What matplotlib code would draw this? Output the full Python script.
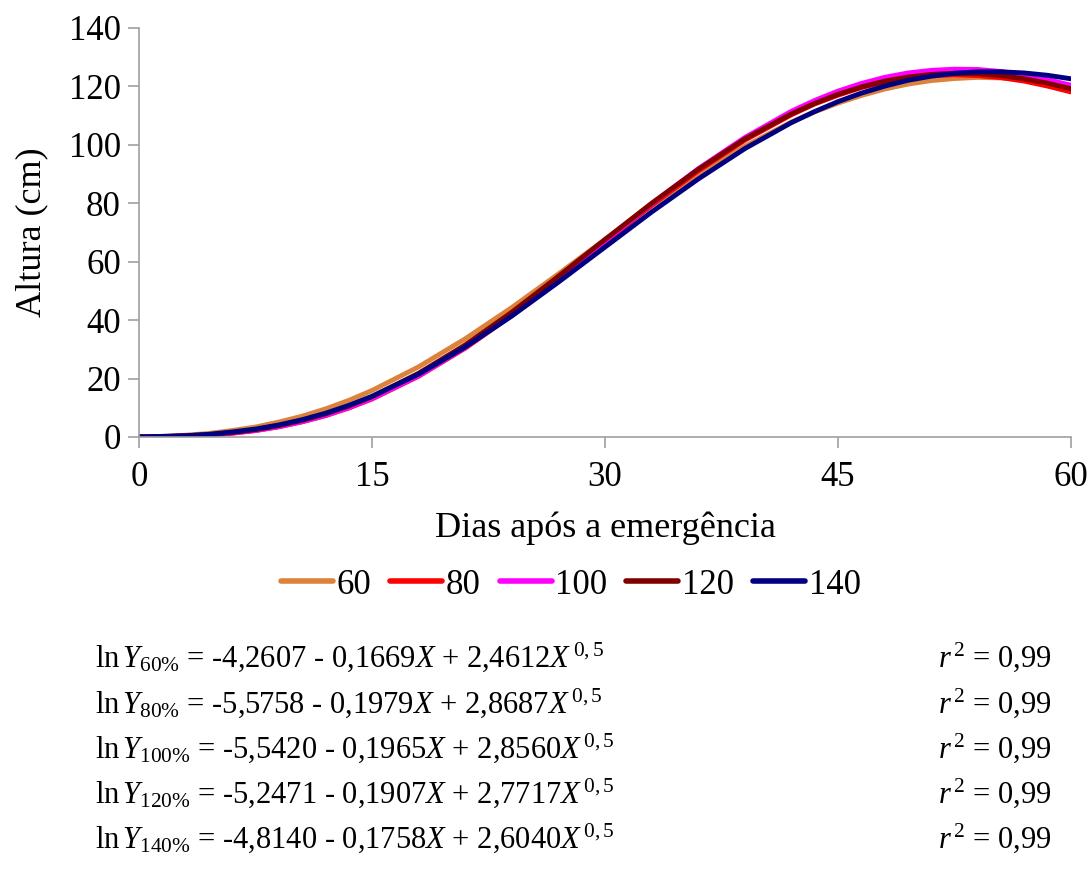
import matplotlib
matplotlib.use('Agg')
import matplotlib.pyplot as plt

plt.rcParams['font.family'] = ['Liberation Serif', 'DejaVu Serif']
plt.rcParams['mathtext.fontset'] = 'custom'
plt.rcParams['mathtext.rm'] = 'Liberation Serif'
plt.rcParams['mathtext.it'] = 'Liberation Serif:italic'

# Dias após a emergência
dias = [0, 1.5, 3, 4.5, 6, 7.5, 9, 10.5, 12, 13.5, 15, 18, 21, 24, 27, 30, 33, 36, 39, 42,
        43.5, 45, 46.5, 48, 49.5, 51, 52.5, 54, 55.5, 57, 58.5, 60]

# Altura (cm)
alt_60 = [0.0, 0.2, 0.6, 1.2, 2.2, 3.4, 5.1, 7.1, 9.6, 12.5, 15.9, 24.0, 33.6, 44.3, 55.8,
          67.6, 79.1, 89.9, 99.5, 107.8, 111.3, 114.3, 116.9, 119.1, 120.8, 122.0, 122.7,
          123.1, 122.9, 122.4, 121.5, 120.3]
alt_80 = [0.0, 0.1, 0.3, 0.7, 1.3, 2.2, 3.5, 5.2, 7.3, 9.9, 13.0, 20.8, 30.4, 41.6, 53.9,
          66.7, 79.3, 91.1, 101.6, 110.3, 114.0, 117.0, 119.6, 121.5, 122.9, 123.7, 124.0,
          123.7, 123.0, 121.8, 120.1, 118.1]
alt_100 = [0.0, 0.1, 0.3, 0.7, 1.3, 2.2, 3.5, 5.2, 7.3, 10.0, 13.1, 20.9, 30.6, 41.8, 54.2,
           67.1, 79.8, 91.8, 102.5, 111.5, 115.2, 118.4, 121.0, 123.1, 124.6, 125.5, 125.9,
           125.8, 125.1, 123.9, 122.3, 120.4]
alt_120 = [0.0, 0.1, 0.4, 0.8, 1.5, 2.5, 3.9, 5.7, 7.9, 10.6, 13.8, 21.8, 31.5, 42.7, 55.0,
           67.6, 80.0, 91.6, 102.0, 110.6, 114.2, 117.3, 119.8, 121.8, 123.2, 124.1, 124.5,
           124.4, 123.7, 122.6, 121.1, 119.2]
alt_140 = [0.0, 0.2, 0.4, 0.9, 1.7, 2.7, 4.1, 5.9, 8.1, 10.8, 13.9, 21.5, 30.8, 41.4, 53.0,
           65.0, 77.0, 88.3, 98.7, 107.6, 111.4, 114.8, 117.7, 120.1, 122.1, 123.5, 124.5,
           125.0, 125.0, 124.6, 123.8, 122.6]

series = [('60', alt_60, '#DC823A'),
          ('80', alt_80, '#FF0000'),
          ('100', alt_100, '#FF00FF'),
          ('120', alt_120, '#800000'),
          ('140', alt_140, '#000080')]

equations = [
    r'$\ln Y_{60\%}$ = -4,2607 - 0,1669$X$ + 2,4612$X^{\,0,5}$',
    r'$\ln Y_{80\%}$ = -5,5758 - 0,1979$X$ + 2,8687$X^{\,0,5}$',
    r'$\ln Y_{100\%}$ = -5,5420 - 0,1965$X$ + 2,8560$X^{\,0,5}$',
    r'$\ln Y_{120\%}$ = -5,2471 - 0,1907$X$ + 2,7717$X^{\,0,5}$',
    r'$\ln Y_{140\%}$ = -4,8140 - 0,1758$X$ + 2,6040$X^{\,0,5}$',
]
r2_text = r'$r^{\,2}$ = 0,99'

fig = plt.figure(figsize=(10.91, 8.72), dpi=100)
ax = fig.add_axes([0.1274, 0.4989, 0.8543, 0.469])

for name, vals, col in series:
    ax.plot(dias, vals, color=col, lw=3.5, label=name,
            solid_capstyle='round', solid_joinstyle='round')

ax.set_xlim(0, 60)
ax.set_ylim(0, 140)
ax.set_xticks([0, 15, 30, 45, 60])
ax.set_yticks(range(0, 141, 20))
for s in ['top', 'right']:
    ax.spines[s].set_visible(False)
for s in ['left', 'bottom']:
    ax.spines[s].set_color('#A0A0A0')
    ax.spines[s].set_linewidth(1.2)
ax.tick_params(direction='out', length=8, width=1.2, color='#A0A0A0', labelsize=25)
ax.tick_params(axis='x', pad=9)
ax.tick_params(axis='y', pad=5)
ax.set_xlabel('Dias após a emergência', fontsize=26, labelpad=13)
ax.set_ylabel('Altura (cm)', fontsize=26, labelpad=15)

leg = fig.legend(loc='center', bbox_to_anchor=(0.523, 0.329), ncol=5, frameon=False,
                 fontsize=25, handlelength=1.5, handletextpad=0.1, columnspacing=0.55)
for h in leg.get_lines():
    h.set_linewidth(4)

row_y = [657, 703, 748, 793, 838]
for eq, yy in zip(equations, row_y):
    fig.text(95 / 1091, 1 - yy / 872, eq, fontsize=22, va='center', ha='left')
    fig.text(938 / 1091, 1 - yy / 872, r2_text, fontsize=22, va='center', ha='left')

fig.savefig('out.png', dpi=100)
